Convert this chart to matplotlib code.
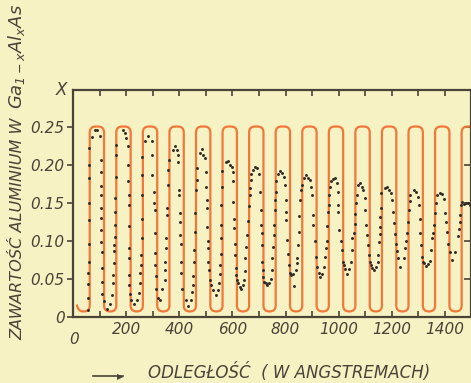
import matplotlib
matplotlib.use("Agg")
import matplotlib.pyplot as plt
from matplotlib.path import Path
from matplotlib.patches import PathPatch

# designed aluminium profile (orange square wave), in angstrom
profile_rise = [63, 163, 263, 363, 463, 563, 663, 763, 863, 963, 1063, 1163, 1263, 1363, 1463]
profile_fall = [117, 217, 317, 417, 517, 617, 717, 817, 917, 1017, 1117, 1217, 1317, 1417]
profile_high = 0.25
profile_low = 0.007
profile_start = (14, 0.016)

# measured points, one line per period
dot_x = [
    58, 58, 58, 58, 59, 59, 59, 59, 60, 60, 61, 71, 83, 92, 101, 105, 105, 106, 106, 106, 107, 107, 107, 108, 108, 109, 110, 118, 129, 138, 145,
    150, 152, 153, 155, 156, 157, 158, 158, 159, 160, 161, 163, 188, 196, 201, 207, 208, 208, 209, 209, 210, 210, 211, 211, 212, 213, 218, 229, 240, 248,
    252, 254, 256, 257, 258, 258, 259, 259, 260, 271, 283, 296, 297, 298, 305, 306, 307, 308, 309, 310, 311, 313, 321, 328, 336, 345,
    347, 348, 349, 350, 352, 354, 356, 358, 360, 378, 384, 390, 395, 396, 399, 400, 402, 403, 404, 405, 406, 407, 409, 424, 434, 443, 447,
    450, 452, 454, 456, 458, 461, 463, 465, 467, 477, 484, 490, 496, 500, 502, 503, 504, 505, 507, 508, 510, 512, 514, 521, 528, 538, 547, 551,
    553, 555, 556, 557, 558, 559, 560, 562, 575, 584, 592, 598, 602, 603, 604, 605, 606, 608, 610, 612, 614, 616, 621, 627, 633, 640, 644,
    647, 649, 652, 656, 660, 663, 665, 667, 669, 671, 677, 685, 693, 700, 704, 706, 708, 710, 711, 713, 715, 717, 719, 725, 731, 738, 744, 748,
    750, 752, 755, 757, 759, 761, 763, 765, 773, 780, 787, 794, 798, 800, 801, 803, 806, 808, 812, 816, 822, 828, 833, 838, 843,
    845, 847, 849, 852, 855, 858, 862, 869, 878, 884, 891, 897, 900, 902, 905, 910, 915, 920, 926, 931, 937, 945, 950,
    952, 955, 958, 961, 963, 965, 967, 972, 979, 986, 992, 996, 998, 999, 1002, 1008, 1013, 1017, 1020, 1025, 1032, 1040, 1046, 1049,
    1052, 1056, 1060, 1063, 1066, 1069, 1074, 1081, 1088, 1093, 1098, 1101, 1104, 1108, 1112, 1115, 1118, 1121, 1126, 1133, 1141, 1147, 1150,
    1153, 1155, 1156, 1157, 1158, 1160, 1174, 1181, 1189, 1197, 1202, 1206, 1210, 1213, 1216, 1219, 1224, 1232, 1245, 1251,
    1255, 1258, 1261, 1264, 1267, 1270, 1282, 1292, 1298, 1302, 1305, 1308, 1311, 1314, 1318, 1323, 1330, 1338, 1344, 1349, 1352,
    1356, 1359, 1362, 1366, 1371, 1380, 1389, 1396, 1401, 1404, 1408, 1413, 1418, 1425, 1438, 1448,
    1452, 1455, 1457, 1459, 1464, 1472, 1480, 1487, 1493,
]
dot_y = [
    0.009, 0.024, 0.043, 0.057, 0.072, 0.096, 0.127, 0.149, 0.182, 0.199, 0.222, 0.236, 0.245, 0.245, 0.237, 0.206, 0.190, 0.172, 0.160, 0.143, 0.130, 0.114, 0.098, 0.085, 0.064, 0.046, 0.030, 0.021, 0.010, 0.017, 0.029,
    0.045, 0.055, 0.070, 0.086, 0.094, 0.105, 0.121, 0.138, 0.156, 0.184, 0.213, 0.226, 0.246, 0.241, 0.235, 0.224, 0.200, 0.178, 0.160, 0.147, 0.119, 0.090, 0.077, 0.055, 0.042, 0.030, 0.022, 0.017, 0.022, 0.031,
    0.044, 0.057, 0.068, 0.081, 0.103, 0.129, 0.160, 0.186, 0.210, 0.231, 0.238, 0.231, 0.213, 0.186, 0.164, 0.150, 0.140, 0.110, 0.084, 0.068, 0.053, 0.037, 0.024, 0.022, 0.036, 0.048,
    0.062, 0.072, 0.090, 0.103, 0.134, 0.143, 0.173, 0.193, 0.206, 0.219, 0.225, 0.219, 0.213, 0.204, 0.167, 0.160, 0.136, 0.125, 0.107, 0.096, 0.072, 0.057, 0.037, 0.022, 0.014, 0.022, 0.033,
    0.042, 0.053, 0.072, 0.088, 0.112, 0.136, 0.166, 0.180, 0.195, 0.215, 0.220, 0.213, 0.208, 0.190, 0.170, 0.153, 0.143, 0.118, 0.099, 0.090, 0.072, 0.062, 0.048, 0.042, 0.035, 0.029, 0.035, 0.044,
    0.056, 0.068, 0.083, 0.103, 0.121, 0.147, 0.171, 0.192, 0.203, 0.205, 0.200, 0.197, 0.190, 0.178, 0.151, 0.129, 0.116, 0.096, 0.081, 0.064, 0.055, 0.048, 0.044, 0.039, 0.036, 0.042, 0.048,
    0.060, 0.077, 0.092, 0.108, 0.126, 0.145, 0.160, 0.169, 0.180, 0.188, 0.193, 0.197, 0.195, 0.188, 0.164, 0.140, 0.121, 0.110, 0.094, 0.072, 0.062, 0.052, 0.046, 0.044, 0.042, 0.044, 0.050, 0.061,
    0.077, 0.092, 0.108, 0.121, 0.140, 0.154, 0.164, 0.178, 0.188, 0.191, 0.189, 0.184, 0.173, 0.154, 0.138, 0.127, 0.101, 0.083, 0.068, 0.058, 0.055, 0.056, 0.040, 0.062, 0.071,
    0.077, 0.094, 0.112, 0.132, 0.154, 0.166, 0.173, 0.182, 0.186, 0.183, 0.180, 0.171, 0.160, 0.134, 0.121, 0.099, 0.078, 0.066, 0.058, 0.052, 0.056, 0.066, 0.078,
    0.090, 0.099, 0.119, 0.138, 0.147, 0.160, 0.171, 0.178, 0.181, 0.183, 0.176, 0.164, 0.147, 0.138, 0.114, 0.099, 0.088, 0.072, 0.068, 0.063, 0.056, 0.063, 0.072, 0.088,
    0.104, 0.110, 0.122, 0.135, 0.150, 0.160, 0.173, 0.176, 0.171, 0.167, 0.156, 0.140, 0.121, 0.107, 0.094, 0.081, 0.072, 0.068, 0.064, 0.061, 0.066, 0.072, 0.081,
    0.098, 0.109, 0.118, 0.131, 0.143, 0.162, 0.169, 0.171, 0.167, 0.163, 0.154, 0.138, 0.123, 0.109, 0.096, 0.086, 0.077, 0.066, 0.077, 0.090,
    0.100, 0.110, 0.125, 0.140, 0.152, 0.160, 0.166, 0.164, 0.158, 0.147, 0.129, 0.110, 0.094, 0.078, 0.072, 0.070, 0.067, 0.069, 0.073, 0.088, 0.104,
    0.110, 0.121, 0.136, 0.149, 0.160, 0.162, 0.161, 0.155, 0.136, 0.125, 0.112, 0.096, 0.085, 0.075, 0.085, 0.106,
    0.115, 0.125, 0.134, 0.147, 0.151, 0.148, 0.150, 0.149, 0.147,
]

x_ticks = [200, 400, 600, 800, 1000, 1200, 1400]
y_ticks = [0, 0.05, 0.10, 0.15, 0.20, 0.25]
y_tick_labels = ["0", "0.05", "0.10", "0.15", "0.20", "0.25"]

paper = "#f7f2c3"
ink = "#4a4338"
orange = "#f2783a"

plt.rcParams["font.family"] = "DejaVu Sans"
plt.rcParams["font.style"] = "italic"
plt.rcParams["mathtext.fontset"] = "dejavusans"
plt.rcParams["mathtext.default"] = "it"

fig = plt.figure(figsize=(4.71, 3.83), dpi=100, facecolor=paper)
ax = fig.add_axes([0.155, 0.173, 0.846, 0.592], facecolor=paper)


def profile_path(rx=22, ry=0.0078):
    lo, hi = profile_low, profile_high
    verts = [profile_start, (20, lo), (36, lo)]
    codes = [Path.MOVETO, Path.CURVE3, Path.CURVE3]
    for i, r in enumerate(profile_rise):
        verts += [(r - rx, lo), (r, lo), (r, lo + ry), (r, hi - ry), (r, hi), (r + rx, hi)]
        codes += [Path.LINETO, Path.CURVE3, Path.CURVE3, Path.LINETO, Path.CURVE3, Path.CURVE3]
        if i < len(profile_fall):
            f = profile_fall[i]
            verts += [(f - rx, hi), (f, hi), (f, hi - ry), (f, lo + ry), (f, lo), (f + rx, lo)]
            codes += [Path.LINETO, Path.CURVE3, Path.CURVE3, Path.LINETO, Path.CURVE3, Path.CURVE3]
        else:
            verts.append((1540, hi))
            codes.append(Path.LINETO)
    return Path(verts, codes)


ax.add_patch(PathPatch(profile_path(), fill=False, edgecolor=orange, lw=1.6))
ax.scatter(dot_x, dot_y, s=4.5, color="#2f2a26", zorder=3, linewidths=0)

ax.set_xlim(0, 1500)
ax.set_ylim(0, 0.298)

for s in ax.spines.values():
    s.set_color(ink)
    s.set_linewidth(1.6)

ax.set_xticks(x_ticks)
ax.set_xticklabels([str(v) for v in x_ticks])
ax.set_xticks(range(100, 1500, 100), minor=True)
ax.set_yticks(y_ticks)
ax.set_yticklabels(y_tick_labels)
ax.tick_params(axis="x", which="both", direction="in", top=True, length=4, width=1.2,
               color=ink, labelcolor=ink, labelsize=11, pad=4)
ax.tick_params(axis="y", which="both", direction="out", right=False, length=4, width=1.2,
               color=ink, labelcolor=ink, labelsize=11, pad=2)

# inward ticks on the right side
ax_r = ax.secondary_yaxis("right")
ax_r.set_yticks(y_ticks[1:])
ax_r.tick_params(direction="in", length=5, width=1.2, color=ink, labelright=False)
ax_r.spines["right"].set_visible(False)

ax.annotate("0", xy=(0, 0), xycoords="data", xytext=(1, -11), textcoords="offset points",
            ha="center", va="top", fontsize=11, color=ink)
ax.annotate("X", xy=(0, 0.298), xycoords="data", xytext=(-8, 0), textcoords="offset points",
            ha="center", va="center", fontsize=12, color=ink)

fig.text(0.038, 0.112, "ZAWARTOŚĆ ALUMINIUM W", rotation=90,
         ha="center", va="bottom", fontsize=11.6, color=ink)
fig.text(0.036, 0.99, "$Ga_{1\u2212x}Al_{x}As$", rotation=90,
         ha="center", va="top", fontsize=13, color=ink)
fig.add_artist(plt.Line2D([0.197, 0.262], [0.018, 0.018], color=ink, lw=1.2))
fig.text(0.249, 0.018, "\u25B6", ha="left", va="center", fontsize=6, color=ink,
         family="DejaVu Sans", style="normal")
fig.text(0.314, 0.013, "ODLEGŁOŚĆ  ( W ANGSTREMACH)", ha="left", va="baseline",
         fontsize=12, color=ink)

fig.savefig("out.png", dpi=100, facecolor=paper)
